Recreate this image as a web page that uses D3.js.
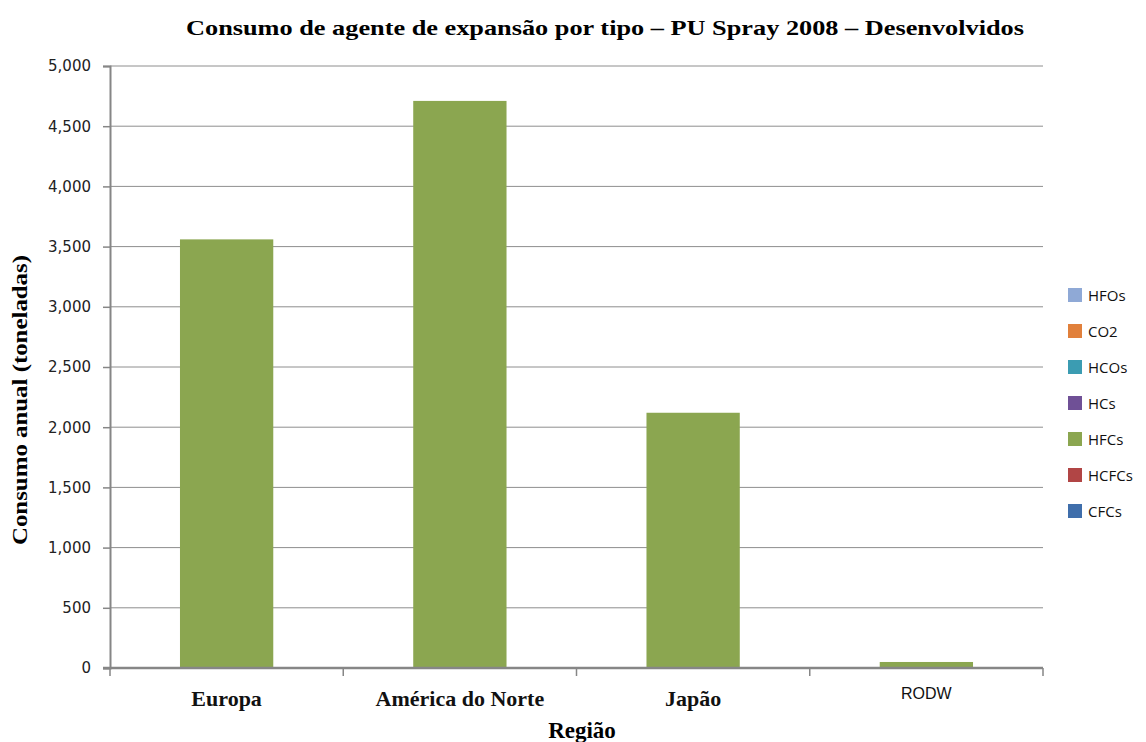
<!DOCTYPE html>
<html>
<head>
<meta charset="utf-8">
<script src="https://cdn.jsdelivr.net/npm/d3@7"></script>
<style>
  body { margin: 0; background: #fff; }
  svg { display: block; }
</style>
</head>
<body>
<div id="vis"></div>
<script>
// data
const regions = ["Europa", "América do Norte", "Japão", "RODW"];
const types = ["CFCs", "HCFCs", "HFCs", "HCs", "HCOs", "CO2", "HFOs"];
const CFCs  = [0, 0, 0, 0];
const HCFCs = [0, 0, 0, 0];
const HFCs  = [3560, 4710, 2120, 50];
const HCs   = [0, 0, 0, 0];
const HCOs  = [0, 0, 0, 0];
const CO2   = [0, 0, 0, 0];
const HFOs  = [0, 0, 0, 0];
const yTicks = [0, 500, 1000, 1500, 2000, 2500, 3000, 3500, 4000, 4500, 5000];

const series = { CFCs, HCFCs, HFCs, HCs, HCOs, CO2, HFOs };
const rows = regions.map((r, i) => {
  const o = { region: r };
  types.forEach(t => o[t] = series[t][i]);
  return o;
});

const colors = {
  CFCs: "#3f6eab", HCFCs: "#b14545", HFCs: "#8ba650", HCs: "#6f5096",
  HCOs: "#3b9cb2", CO2: "#e1803b", HFOs: "#8fa9d6"
};

const serif = "'Liberation Serif', 'Times New Roman', serif";
const W = 1146, H = 742;
const plotL = 110, plotR = 1043, plotT = 66, plotB = 668;

const svg = d3.select("#vis").append("svg").attr("width", W).attr("height", H);

const x = d3.scaleBand().domain(regions).range([plotL, plotR])
  .paddingInner(0.6).paddingOuter(0.3);
const y = d3.scaleLinear().domain([0, 5000]).range([plotB, plotT]);

// gridlines
svg.append("g")
  .selectAll("line")
  .data(yTicks.filter(d => d > 0))
  .join("line")
    .attr("x1", plotL).attr("x2", plotR)
    .attr("y1", d => y(d)).attr("y2", d => y(d))
    .attr("stroke", "#8e8e8e").attr("stroke-width", 1);

// stacked bars
const stacked = d3.stack().keys(types)(rows);
svg.append("g")
  .selectAll("g")
  .data(stacked)
  .join("g")
    .attr("fill", d => colors[d.key])
  .selectAll("rect")
  .data(d => d)
  .join("rect")
    .attr("x", d => x(d.data.region))
    .attr("width", x.bandwidth())
    .attr("y", d => y(d[1]))
    .attr("height", d => y(d[0]) - y(d[1]));

// y axis
const yAxis = svg.append("g")
  .attr("transform", `translate(${plotL},0)`)
  .call(d3.axisLeft(y).tickValues(yTicks).tickSize(7).tickPadding(12)
    .tickFormat(d3.format(",")));
yAxis.select(".domain").attr("stroke", "#868686").attr("stroke-width", 2);
yAxis.selectAll(".tick line").attr("stroke", "#868686").attr("stroke-width", 1.5);
yAxis.selectAll("text")
  .attr("font-family", "'DejaVu Sans', Verdana, sans-serif")
  .attr("font-size", 15).attr("fill", "#222");

// x axis with ticks on band boundaries
const xg = svg.append("g");
xg.append("line")
  .attr("x1", plotL - 7).attr("x2", plotR)
  .attr("y1", plotB).attr("y2", plotB)
  .attr("stroke", "#868686").attr("stroke-width", 2.5);
const bounds = d3.range(regions.length + 1).map(i => plotL + i * (plotR - plotL) / regions.length);
xg.selectAll(".xt")
  .data(bounds)
  .join("line")
    .attr("class", "xt")
    .attr("x1", d => d).attr("x2", d => d)
    .attr("y1", plotB).attr("y2", plotB + 8)
    .attr("stroke", "#868686").attr("stroke-width", 1.5);

xg.selectAll(".xl")
  .data(regions)
  .join("text")
    .attr("class", "xl")
    .attr("x", d => x(d) + x.bandwidth() / 2)
    .attr("y", d => d === "RODW" ? 699 : 706)
    .attr("text-anchor", "middle")
    .attr("font-family", d => d === "RODW" ? "'Liberation Sans', Arial, sans-serif" : serif)
    .attr("font-weight", d => d === "RODW" ? "normal" : "bold")
    .attr("font-size", d => d === "RODW" ? 16 : 22)
    .attr("fill", "#111")
    .text(d => d);

// titles
svg.append("text")
  .attr("x", 605).attr("y", 35)
  .attr("text-anchor", "middle")
  .attr("font-family", serif)
  .attr("font-weight", "bold").attr("font-size", 22)
  .attr("textLength", 838).attr("lengthAdjust", "spacingAndGlyphs")
  .text("Consumo de agente de expansão por tipo – PU Spray 2008 – Desenvolvidos");

svg.append("text")
  .attr("x", 582).attr("y", 738)
  .attr("text-anchor", "middle")
  .attr("font-family", serif)
  .attr("font-weight", "bold").attr("font-size", 23)
  .text("Região");

svg.append("text")
  .attr("transform", "translate(27,400) rotate(-90)")
  .attr("text-anchor", "middle")
  .attr("font-family", serif)
  .attr("font-weight", "bold").attr("font-size", 22)
  .attr("textLength", 290).attr("lengthAdjust", "spacingAndGlyphs")
  .text("Consumo anual (toneladas)");

// legend (reverse order, top = last series)
const legend = svg.append("g").attr("transform", "translate(1068,288)");
const legItems = types.slice().reverse();
legend.selectAll("rect")
  .data(legItems)
  .join("rect")
    .attr("x", 0).attr("y", (d, i) => i * 36)
    .attr("width", 14).attr("height", 14)
    .attr("fill", d => colors[d]);
legend.selectAll("text")
  .data(legItems)
  .join("text")
    .attr("x", 20).attr("y", (d, i) => i * 36 + 13)
    .attr("font-family", "'Open Sans', 'Liberation Sans', sans-serif")
    .attr("font-size", 15).attr("fill", "#111")
    .text(d => d);
</script>
</body>
</html>
